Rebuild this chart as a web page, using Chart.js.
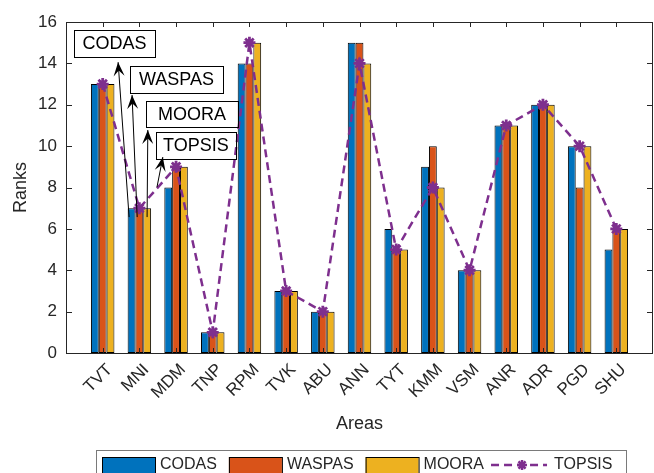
<!DOCTYPE html>
<html>
<head>
<meta charset="utf-8">
<script src="https://cdn.jsdelivr.net/npm/chart.js@4/dist/chart.umd.min.js"></script>
<style>body{margin:0;background:#fff}</style>
</head>
<body>
<canvas id="myChart" width="654" height="473"></canvas>
<script>
var areas=["TVT","MNI","MDM","TNP","RPM","TVK","ABU","ANN","TYT","KMM","VSM","ANR","ADR","PGD","SHU"];
var codas =[13,7,8,1,14,3,2,15,6,9,4,11,12,10,5];
var waspas=[13,7,9,1,14,3,2,15,5,10,4,11,12,8,6];
var moora =[13,7,9,1,15,3,2,14,5,8,4,11,12,10,6];
var topsis=[13,7,9,1,15,3,2,14,5,8,4,11,12,10,6];
var yticks=[0,2,4,6,8,10,12,14,16];

// text arrows, in data units (x = category slot, y = rank)
var notes=[
  {text:"CODAS",  box:[0.22,15.61,2.43,14.31], from:[1.72,6.57], to:[1.42,14.06]},
  {text:"WASPAS", box:[1.74,13.87,4.28,12.57], from:[1.94,6.57], to:[1.80,12.47]},
  {text:"MOORA",  box:[2.18,12.18,4.69,10.92], from:[2.21,6.57], to:[2.23,10.78]},
  {text:"TOPSIS", box:[2.45,10.68,4.63,9.38],  from:[2.48,8.02], to:[2.64,9.47]}
];

const FONT="'Liberation Sans', Arial, sans-serif";
const INK="#262626";
const BLUE="#0072BD", ORANGE="#D95319", YELLOW="#EDB120", PURPLE="#7E2F8E";

// one empty slot each side, like the matlab axis
var labels=[""].concat(areas,[""]);
function pad(a){return [null].concat(a,[null]);}

function arrow(ctx,x1,y1,x2,y2){
  ctx.beginPath();ctx.moveTo(x1,y1);ctx.lineTo(x2,y2);ctx.stroke();
  const a=Math.atan2(y2-y1,x2-x1);
  const L=14,W=5.5;
  ctx.save();ctx.translate(x2,y2);ctx.rotate(a);
  ctx.beginPath();ctx.moveTo(0,0);ctx.lineTo(-L,-W);ctx.lineTo(-L*0.6,0);ctx.lineTo(-L,W);ctx.closePath();ctx.fill();
  ctx.restore();
}

const decor={
  id:"decor",
  afterDatasetsDraw(chart){
    const ctx=chart.ctx, xs=chart.scales.x, ys=chart.scales.y, ca=chart.chartArea;
    ctx.save();
    ctx.strokeStyle=INK;ctx.lineWidth=1;
    // ticks inside the box
    ctx.beginPath();
    for(let i=1;i<=areas.length;i++){
      const x=Math.round(xs.getPixelForValue(i))+0.5;
      ctx.moveTo(x,ca.top);ctx.lineTo(x,ca.top+5);
      ctx.moveTo(x,ca.bottom);ctx.lineTo(x,ca.bottom-5);
    }
    for(const v of yticks){
      const y=Math.round(ys.getPixelForValue(v))+0.5;
      ctx.moveTo(ca.left,y);ctx.lineTo(ca.left+6,y);
      ctx.moveTo(ca.right,y);ctx.lineTo(ca.right-6,y);
    }
    ctx.stroke();
    ctx.strokeRect(ca.left+0.5,ca.top+0.5,ca.right-ca.left-1,ca.bottom-ca.top);
    // annotations
    ctx.fillStyle="#000";ctx.strokeStyle="#000";
    ctx.font="18px "+FONT;ctx.textAlign="center";ctx.textBaseline="middle";
    for(const n of notes){
      const x0=xs.getPixelForValue(n.box[0]),y0=ys.getPixelForValue(n.box[1]);
      const x1=xs.getPixelForValue(n.box[2]),y1=ys.getPixelForValue(n.box[3]);
      ctx.strokeRect(Math.round(x0)+0.5,Math.round(y0)+0.5,Math.round(x1-x0),Math.round(y1-y0));
      ctx.fillText(n.text,(x0+x1)/2,(y0+y1)/2+1);
      arrow(ctx,xs.getPixelForValue(n.from[0]),ys.getPixelForValue(n.from[1]),
                xs.getPixelForValue(n.to[0]),ys.getPixelForValue(n.to[1]));
    }
    ctx.restore();
  },
  afterDraw(chart){
    const ctx=chart.ctx, ca=chart.chartArea, xs=chart.scales.x;
    ctx.save();
    ctx.fillStyle=INK;
    // x tick labels, rotated like matlab
    ctx.font="17px "+FONT;ctx.textAlign="right";ctx.textBaseline="middle";
    areas.forEach(function(a,i){
      ctx.save();ctx.translate(xs.getPixelForValue(i+1)+7,ca.bottom+14);ctx.rotate(-Math.PI/4);
      ctx.fillText(a,0,0);ctx.restore();
    });
    ctx.font="18px "+FONT;ctx.textAlign="center";
    ctx.fillText("Areas",(ca.left+ca.right)/2,424);
    ctx.save();ctx.translate(21,(ca.top+ca.bottom)/2);ctx.rotate(-Math.PI/2);
    ctx.fillText("Ranks",0,0);ctx.restore();
    // legend
    ctx.font="16px "+FONT;ctx.textAlign="left";
    ctx.strokeStyle="#7a7a7a";ctx.lineWidth=1;
    ctx.strokeRect(96.5,450.5,530,30);
    let x=102;const yc=465;
    chart.data.datasets.forEach(function(ds){
      if(ds.type==="line"){
        ctx.save();ctx.strokeStyle=ds.borderColor;ctx.lineWidth=2.5;ctx.setLineDash([8,5]);
        ctx.beginPath();ctx.moveTo(x-5,yc);ctx.lineTo(x+51,yc);ctx.stroke();
        ctx.setLineDash([]);ctx.lineWidth=2.5;
        ctx.beginPath();
        for(let k=0;k<4;k++){const a=k*Math.PI/4;ctx.moveTo(x+26-5*Math.cos(a),yc-5*Math.sin(a));ctx.lineTo(x+26+5*Math.cos(a),yc+5*Math.sin(a));}
        ctx.stroke();ctx.restore();
        ctx.fillText(ds.label,x+58,yc);
      }else{
        ctx.fillStyle=ds.backgroundColor;ctx.fillRect(x,457,53,18);
        ctx.strokeStyle="#000";ctx.strokeRect(x+0.5,457.5,53,18);
        ctx.fillStyle=INK;ctx.fillText(ds.label,x+58,yc);
        x+=58+ctx.measureText(ds.label).width+12;
        ctx.strokeStyle="#7a7a7a";
      }
    });
    ctx.restore();
  }
};

function barSet(label,vals,color){
  return {type:"bar",label:label,data:pad(vals),backgroundColor:color,borderColor:"#000",
    borderWidth:1,borderSkipped:false,categoryPercentage:0.64,barPercentage:1,order:1};
}

const ctx=document.getElementById("myChart");
new Chart(ctx,{
  data:{
    labels:labels,
    datasets:[
      barSet("CODAS",codas,BLUE),
      barSet("WASPAS",waspas,ORANGE),
      barSet("MOORA",moora,YELLOW),
      {type:"line",label:"TOPSIS",data:pad(topsis),borderColor:PURPLE,backgroundColor:PURPLE,
        borderWidth:2.5,borderDash:[8,5],fill:false,tension:0,pointStyle:"star",pointRadius:6,
        pointBorderWidth:2.8,pointBorderColor:PURPLE,order:0}
    ]
  },
  options:{
    responsive:false,animation:false,devicePixelRatio:1,
    layout:{autoPadding:false,padding:{top:22,right:1,left:0,bottom:0}},
    plugins:{legend:{display:false},tooltip:{enabled:false}},
    scales:{
      x:{type:"category",offset:false,
        grid:{display:false,drawTicks:false},border:{display:false},
        ticks:{display:false},
        afterFit(s){s.height=120;s.paddingLeft=0;s.paddingRight=0;}},
      y:{min:0,max:16,
        grid:{display:false,drawTicks:false},border:{display:false},
        afterBuildTicks(s){s.ticks=yticks.map(v=>({value:v}));},
        ticks:{color:INK,font:{family:FONT,size:17},padding:9},
        afterFit(s){s.width=66;s.paddingTop=0;s.paddingBottom=0;}}
    }
  },
  plugins:[decor]
});
</script>
</body>
</html>
